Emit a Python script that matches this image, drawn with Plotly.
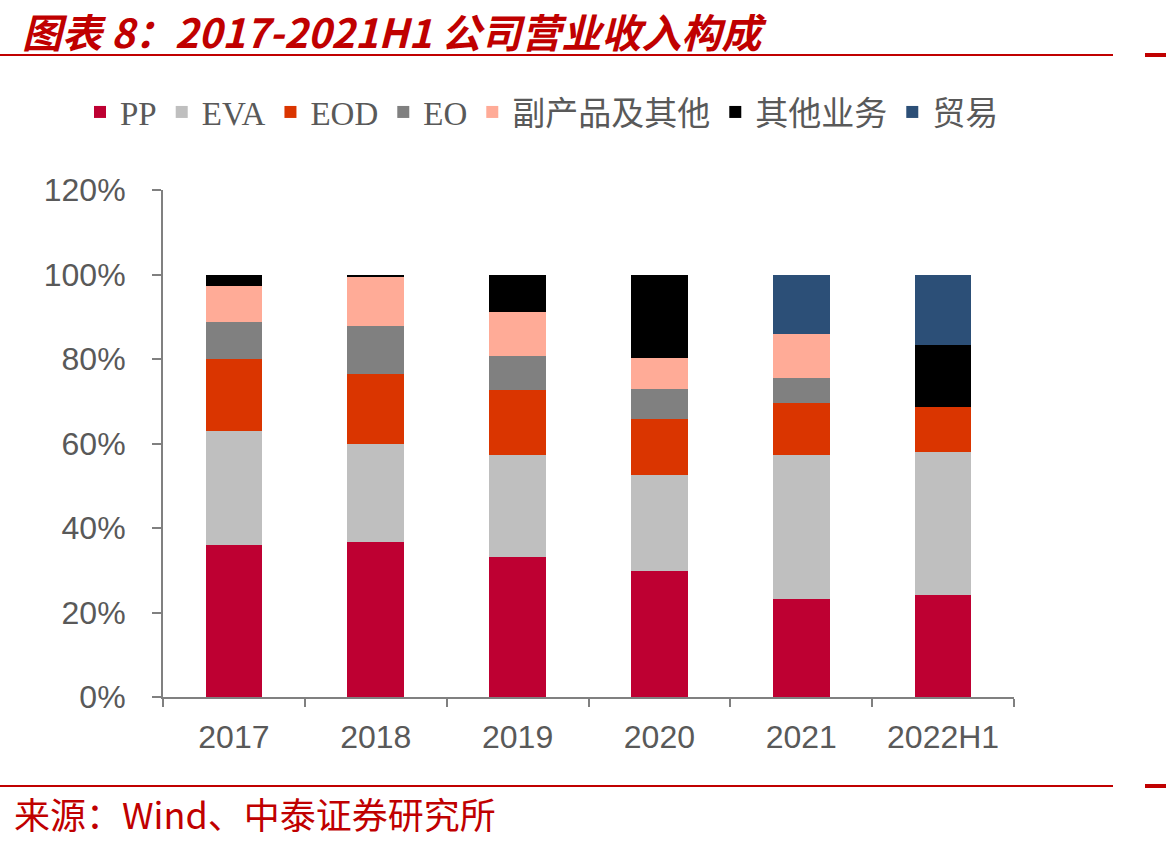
import plotly.graph_objects as go

categories = ["2017", "2018", "2019", "2020", "2021", "2022H1"]
pp = [36.0, 36.7, 33.2, 29.9, 23.2, 24.2]
eva = [27.0, 23.3, 24.1, 22.7, 34.1, 33.9]
eod = [17.0, 16.5, 15.4, 13.3, 12.4, 10.6]
eo = [8.7, 11.4, 8.1, 6.9, 5.7, None]
byproduct = [8.5, 11.5, 10.4, 7.5, 10.6, None]
other_biz = [2.8, 0.6, 8.8, 19.7, None, 14.5]
trade = [None, None, None, None, 14.0, 16.8]

series = [
    ("PP", pp, "#BE0032"),
    ("EVA", eva, "#BFBFBF"),
    ("EOD", eod, "#DA3500"),
    ("EO", eo, "#808080"),
    ("副产品及其他", byproduct, "#FFAB97"),
    ("其他业务", other_biz, "#000000"),
    ("贸易", trade, "#2C4F77"),
]

fig = go.Figure()
for name, vals, color in series:
    fig.add_trace(go.Bar(
        x=categories,
        y=[v / 100 if v is not None else None for v in vals],
        name=name,
        marker=dict(color=color, line=dict(width=0)),
    ))

# plot area in pixels
L, R, T, B = 163, 1014, 190, 697
W, H = 1166, 848

def px(x):
    return (x - L) / (R - L)

def py(y):
    return (B - y) / (B - T)

red = "#C00000"
shapes = []
for yy in (55, 786):
    shapes.append(dict(type="line", xref="paper", yref="paper",
                       x0=px(0), x1=px(1113), y0=py(yy), y1=py(yy),
                       line=dict(color=red, width=2)))
    shapes.append(dict(type="line", xref="paper", yref="paper",
                       x0=px(1145), x1=px(1166), y0=py(yy), y1=py(yy),
                       line=dict(color=red, width=4)))

annotations = [
    dict(text="图表 8：2017-2021H1 公司营业收入构成", xref="paper", yref="paper",
         x=px(20), y=py(31), xanchor="left", yanchor="middle", showarrow=False,
         font=dict(family="Noto Sans CJK SC", size=40, color=red,
                   weight="bold", style="italic")),
    dict(text="来源：Wind、中泰证券研究所", xref="paper", yref="paper",
         x=px(12), y=py(813), xanchor="left", yanchor="middle", showarrow=False,
         font=dict(family="Noto Sans CJK SC", size=36, color=red)),
]

axis_gray = "#808080"
tick_font = dict(family="Liberation Sans, Arial", size=32, color="#595959")

fig.update_layout(
    width=W, height=H,
    margin=dict(l=L, r=W - R, t=T, b=H - B, pad=0),
    paper_bgcolor="white", plot_bgcolor="white",
    barmode="stack", bargap=0.6,
    showlegend=True,
    legend=dict(orientation="h", x=px(80), y=py(84), xanchor="left", yanchor="top",
                font=dict(family="Liberation Serif, Noto Sans CJK SC", size=33, color="#595959"),
                itemwidth=30, traceorder="normal", bgcolor="rgba(0,0,0,0)"),
    xaxis=dict(showline=True, linecolor=axis_gray, linewidth=2,
               ticks="outside", tickson="boundaries", ticklen=8, tickwidth=2,
               tickcolor=axis_gray, tickfont=tick_font, showgrid=False,
               ticklabelstandoff=11),
    yaxis=dict(range=[0, 1.2], dtick=0.2, tickformat=".0%", showline=True,
               linecolor=axis_gray, linewidth=2, ticks="outside", ticklen=9,
               tickwidth=2, tickcolor=axis_gray, tickfont=tick_font,
               showgrid=False, zeroline=False, ticklabelstandoff=20),
    shapes=shapes,
    annotations=annotations,
)

fig.write_html("out.html")
